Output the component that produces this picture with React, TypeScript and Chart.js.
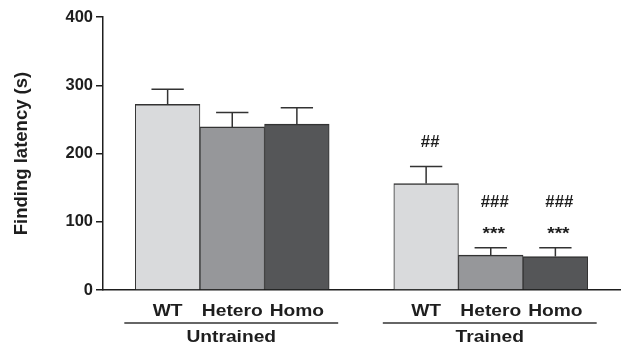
import React, { useEffect, useRef } from "react";
import { Chart, registerables } from "chart.js";

Chart.register(...registerables);

// ---- data ----
const genotypes = ["WT", "Hetero", "Homo"];
const groups = ["Untrained", "Trained"];
const untrainedMeans = [272, 239, 243];
const untrainedSEM = [22, 21, 24];
const trainedMeans = [156, 51, 49];
const trainedSEM = [25, 11, 13];
const untrainedHash = ["", "", ""];
const untrainedStars = ["", "", ""];
const trainedHash = ["##", "###", "###"];
const trainedStars = ["", "***", "***"];
const barColors = ["#d9dadc", "#96979a", "#555658"];
const yTicks = [0, 100, 200, 300, 400];
const yTitle = "Finding latency (s)";

const FONT = "'Liberation Sans', Arial, Helvetica, sans-serif";
const INK = "#1e1e1e";

// table built from the arrays above (a blank slot before, between and after the groups)
const labels = ["", ...genotypes, "", ...genotypes, ""];
const means: (number | null)[] = [null, ...untrainedMeans, null, ...trainedMeans, null];
const sems: (number | null)[] = [null, ...untrainedSEM, null, ...trainedSEM, null];
const colors = ["rgba(0,0,0,0)", ...barColors, "rgba(0,0,0,0)", ...barColors, "rgba(0,0,0,0)"];
const hashes = ["", ...untrainedHash, "", ...trainedHash, ""];
const stars = ["", ...untrainedStars, "", ...trainedStars, ""];

function stretchedText(ctx: CanvasRenderingContext2D, text: string, x: number, y: number, sx: number) {
  ctx.save();
  ctx.translate(x, y);
  ctx.scale(sx, 1);
  ctx.fillText(text, 0, 0);
  ctx.restore();
}

const extrasPlugin = {
  id: "extras",
  afterDatasetsDraw(chart: any) {
    const ctx: CanvasRenderingContext2D = chart.ctx;
    const yScale = chart.scales.y;
    const xScale = chart.scales.x;
    const meta = chart.getDatasetMeta(0);
    ctx.save();
    // error bars (upward only)
    ctx.strokeStyle = "#333333";
    ctx.lineWidth = 1.5;
    meta.data.forEach((bar: any, i: number) => {
      const m = means[i];
      const s = sems[i];
      if (m == null || s == null) return;
      const x = bar.x;
      const yBar = yScale.getPixelForValue(m);
      const yTop = yScale.getPixelForValue(m + s);
      const half = bar.width * 0.25;
      ctx.beginPath();
      ctx.moveTo(x, yBar);
      ctx.lineTo(x, yTop);
      ctx.moveTo(x - half, yTop);
      ctx.lineTo(x + half, yTop);
      ctx.stroke();
      // significance marks
      ctx.fillStyle = INK;
      ctx.textAlign = "center";
      ctx.textBaseline = "middle";
      ctx.font = `bold 16px ${FONT}`;
      if (stars[i]) {
        stretchedText(ctx, stars[i], x + 3, yTop - 13, 1.2);
      }
      if (hashes[i]) {
        stretchedText(ctx, hashes[i], x + 4, yTop - (stars[i] ? 45 : 24), 1.05);
      }
    });

    // genotype labels, group underlines and group names
    const bottom = chart.chartArea.bottom;
    ctx.fillStyle = INK;
    ctx.textAlign = "center";
    ctx.textBaseline = "alphabetic";
    ctx.font = `bold 16px ${FONT}`;
    labels.forEach((lab, i) => {
      if (!lab) return;
      stretchedText(ctx, lab, xScale.getPixelForValue(i), bottom + 26, 1.2);
    });
    groups.forEach((g, gi) => {
      const first = 1 + gi * (genotypes.length + 1);
      const last = first + genotypes.length - 1;
      const w = meta.data[first].width;
      const x0 = xScale.getPixelForValue(first) - w / 2 - 11;
      const x1 = xScale.getPixelForValue(last) + w / 2 + 9;
      ctx.strokeStyle = "#333333";
      ctx.lineWidth = 1.5;
      ctx.beginPath();
      ctx.moveTo(x0, bottom + 33);
      ctx.lineTo(x1, bottom + 33);
      ctx.stroke();
      stretchedText(ctx, g, (x0 + x1) / 2, bottom + 52, 1.2);
    });
    ctx.restore();
  },
};

export default function App() {
  const canvasRef = useRef<HTMLCanvasElement | null>(null);

  useEffect(() => {
    if (!canvasRef.current) return;
    const chart = new Chart(canvasRef.current, {
      type: "bar",
      data: {
        labels,
        datasets: [
          {
            data: means as any,
            backgroundColor: colors,
            borderColor: "#333333",
            borderWidth: { top: 1.5, left: 1, right: 1, bottom: 0 } as any,
            borderSkipped: false as any,
            barPercentage: 1,
            categoryPercentage: 1,
          },
        ],
      },
      options: {
        animation: false,
        responsive: true,
        maintainAspectRatio: false,
        layout: { padding: { top: 17, right: 5, left: 0, bottom: 0 } },
        plugins: {
          legend: { display: false },
          tooltip: { enabled: false },
        },
        scales: {
          x: {
            type: "category",
            offset: false,
            grid: { display: false },
            border: { display: true, color: INK, width: 1.5 },
            ticks: { display: false },
            afterFit: (s: any) => {
              s.height = 66;
            },
          },
          y: {
            min: 0,
            max: 400,
            afterBuildTicks: (s: any) => {
              s.ticks = yTicks.map((v) => ({ value: v }));
            },
            grid: {
              display: true,
              drawOnChartArea: false,
              drawTicks: true,
              tickLength: 7,
              color: INK,
              lineWidth: 1.5,
            },
            border: { display: true, color: INK, width: 1.5 },
            ticks: {
              color: INK,
              padding: 3,
              font: { family: FONT, size: 16.5, weight: "bold" },
            },
            title: {
              display: true,
              text: yTitle,
              color: INK,
              font: { family: FONT, size: 18.5, weight: "bold" },
              padding: { top: 11, bottom: 0 },
            },
            afterFit: (s: any) => {
              s.width = 103;
            },
          },
        },
      },
      plugins: [extrasPlugin],
    });
    return () => chart.destroy();
  }, []);

  return (
    <div style={{ position: "fixed", left: 0, top: 0, width: 625, height: 356, background: "#fff" }}>
      <canvas ref={canvasRef} />
    </div>
  );
}
